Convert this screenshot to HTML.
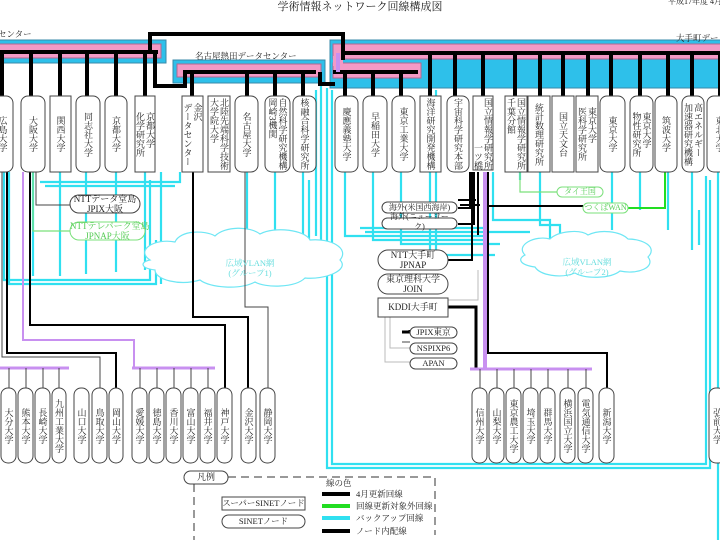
<!DOCTYPE html>
<html><head><meta charset="utf-8"><style>
body{margin:0;background:#fff;}
#w{position:relative;width:720px;height:540px;overflow:hidden;font-family:"Liberation Serif","Noto Serif CJK SC","Noto Sans CJK JP",serif;color:#222;}
svg{position:absolute;left:0;top:0;}
.n{position:absolute;display:flex;align-items:center;justify-content:center;top:96px;height:76px;}
.b{top:388px;height:75px;}
.n>div{writing-mode:vertical-rl;font-size:9px;line-height:10px;white-space:nowrap;}
.h{position:absolute;font-size:9px;line-height:10px;text-align:center;white-space:nowrap;}
</style></head><body><div id="w">
<svg width="720" height="540" viewBox="0 0 720 540" fill="none">
<rect x="-6" y="40" width="172" height="23" fill="#2ec0ea" stroke="#3a8aa8"/>
<rect x="-6" y="44" width="167" height="14" fill="#f39ac6" stroke="#b06890"/>
<rect x="173" y="60" width="152" height="23" fill="#2ec0ea" stroke="#3a8aa8"/>
<rect x="177" y="64" width="144" height="13" fill="#f39ac6" stroke="#b06890"/>
<rect x="330" y="40" width="400" height="48" fill="#2ec0ea" stroke="#3a8aa8"/>
<rect x="333" y="44" width="400" height="15" fill="#f39ac6" stroke="#b06890"/>
<rect x="333" y="63" width="88" height="15" fill="#f39ac6" stroke="#b06890"/>
<rect x="333" y="56" width="10" height="10" fill="#f39ac6"/>
<g stroke="#30e0f0" stroke-width="2.2">
<path d="M327 88V468H710V180M332 90V464H706V176"/>
<path d="M321 84V240M316 90V236"/>
<path d="M4 172V280H150V180M9 172V284H156V240M33 172V276M60 172V276M86 172V274M116 172V272M145 172V270M161 172V284"/>
<path d="M40 182H180V172M45 186H175"/>
<path d="M247 172V240M275 172V240M303 172V236M309 180V240"/>
<path d="M345 172V236H485M373 172V240H485M401 172V244H500M360 228H485M365 232H530"/>
<path d="M430 90V250M436 90V255H495M540 172V225H560V250M520 172V180M493 172V220H550V245M612 172V230M640 172V210M668 172V230M692 172V250M718 172V540M699 210V245"/>
<path d="M565 245V260M625 245V252"/>
</g>
<g fill="#fff" stroke="#6ee6f4" stroke-width="1.2">
<path d="M150 260c-15-10 5-22 25-18c5-12 30-12 40-6c10-10 35-10 45-2c15-8 45-4 50 6c20-2 40 8 30 20c10 10-15 20-35 18c-10 10-40 10-50 4c-15 8-45 6-55-2c-20 6-45 0-45-10c-15-2-15-8-5-10z"/>
<path d="M525 255c-10-10 10-20 25-16c8-8 30-10 38-4c12-6 32-4 40 4c15 0 30 8 20 18c8 10-10 18-28 14c-10 8-35 8-45 2c-15 6-35 2-40-6c-15-2-18-8-10-12z"/>
</g>
<g stroke="#000" stroke-width="4">
<path d="M0 52H158M150 52V34H343V60M343 53H722M333 72H418M155 52V86H185V72M183 72H316M320 72V84H335"/>
<path d="M2 52V96M31 52V96M60 52V96M87 52V96M116 52V96M145 52V96"/>
<path d="M192 72V96M247 72V96M275 72V96M303 72V96M185 72V86"/>
<path d="M345 72V96M373 72V96M401 72V96"/>
<path d="M430 53V96M455 53V96M483 53V96M515 53V96M540 53V96M563 53V96M588 53V96M611 53V96M640 53V96M668 53V96M692 53V96M720 53V96"/>
</g>
<path d="M338 53V72" stroke="#c890f0" stroke-width="4"/>
<g stroke="#000" stroke-width="2">
<path d="M30 172V325H225V388M193 172V317H248V388M7 172V353H116V388"/>
<path d="M488 172V353H607V388"/>
<path d="M476 200H458M480 205H460M470 172V208H458M474 172V224H458M478 172V235M472 172V260H448M484 172V205"/>
<path d="M448 307H476V368M410 330V332H402" stroke-width="3"/>
<path d="M488 206H583"/>
</g>
<g stroke="#444" stroke-width="1"><path d="M36 172V205H70M245 172V307H268V388M2 172V357H100V388M410 342H402"/></g>
<g stroke="#bbb" stroke-width="1"><path d="M390 317V348H410M385 317V362H410M478 270V300H448"/></g>
<g stroke="#7be07b" stroke-width="1.2"><path d="M33 172V231H70M520 172V192H557"/></g>
<path d="M628 208H665V172" stroke="#22dd22" stroke-width="2"/>
<g stroke="#c890f0" stroke-width="2"><path d="M23 172V340H134V368"/></g>
<g stroke="#c890f0" stroke-width="3"><path d="M0 368H69M132 368H215M470 369H592"/><path d="M485 172V368" stroke-width="4"/></g>
<g stroke="#444" stroke-width="1"><path d="M9 368V388M26 368V388M43 368V388M59 368V388M140 368V388M157 368V388M174 368V388M191 368V388M208 368V388M480 369V388M497 369V388M514 369V388M531 369V388M548 369V388M568 369V388M586 369V388M100 357V388M268 307V388"/></g>
<g fill="#fff" stroke="#444" stroke-width="1">
<rect x="-8" y="96" width="21" height="76" rx="7"/><rect x="21" y="96" width="24" height="76" rx="7"/>
<rect x="50" y="96" width="21" height="76"/><rect x="76" y="96" width="24" height="76" rx="7"/>
<rect x="105" y="96" width="22" height="76" rx="7"/><rect x="135" y="96" width="20" height="76"/>
<rect x="182" y="96" width="21" height="76"/><rect x="208" y="96" width="22" height="76"/>
<rect x="235" y="96" width="23" height="76" rx="7"/><rect x="265" y="96" width="25" height="76" rx="7"/>
<rect x="293" y="96" width="23" height="76" rx="7"/><rect x="335" y="96" width="23" height="76" rx="7"/>
<rect x="363" y="96" width="24" height="76" rx="7"/><rect x="392" y="96" width="23" height="76" rx="7"/>
<rect x="420" y="96" width="21" height="76"/><rect x="447" y="96" width="22" height="76" rx="7"/>
<rect x="473" y="96" width="20" height="74"/><rect x="505" y="96" width="22" height="76"/>
<rect x="528" y="96" width="22" height="76"/><rect x="552" y="96" width="22" height="76"/>
<rect x="576" y="96" width="22" height="76"/><rect x="600" y="96" width="25" height="76" rx="7"/>
<rect x="630" y="96" width="23" height="76" rx="7"/><rect x="655" y="96" width="22" height="76" rx="7"/>
<rect x="682" y="96" width="22" height="76" rx="7"/><rect x="707" y="96" width="25" height="76" rx="7"/>
<rect x="1" y="388" width="15" height="75" rx="7"/><rect x="18" y="388" width="15" height="75" rx="7"/>
<rect x="35" y="388" width="15" height="75" rx="7"/><rect x="52" y="388" width="14" height="75" rx="7"/>
<rect x="74" y="388" width="15" height="75" rx="7"/><rect x="92" y="388" width="15" height="75" rx="7"/>
<rect x="109" y="388" width="14" height="75" rx="7"/><rect x="132" y="388" width="15" height="75" rx="7"/>
<rect x="149" y="388" width="15" height="75" rx="7"/><rect x="166" y="388" width="15" height="75" rx="7"/>
<rect x="183" y="388" width="15" height="75" rx="7"/><rect x="200" y="388" width="15" height="75" rx="7"/>
<rect x="217" y="388" width="15" height="75" rx="7"/><rect x="241" y="388" width="15" height="75" rx="7"/>
<rect x="260" y="388" width="15" height="75" rx="7"/>
<rect x="472" y="388" width="15" height="75" rx="7"/><rect x="489" y="388" width="15" height="75" rx="7"/>
<rect x="506" y="388" width="15" height="75" rx="7"/><rect x="523" y="388" width="15" height="75" rx="7"/>
<rect x="540" y="388" width="15" height="75" rx="7"/><rect x="560" y="388" width="15" height="75" rx="7"/>
<rect x="578" y="388" width="15" height="75" rx="7"/><rect x="599" y="388" width="15" height="75" rx="7"/>
<rect x="709" y="388" width="16" height="75" rx="7"/>
<rect x="70" y="195" width="70" height="18" rx="9"/>
<rect x="382" y="202" width="75" height="11" rx="5.5"/><rect x="382" y="218" width="75" height="11" rx="5.5"/>
<rect x="378" y="250" width="70" height="20" rx="10"/><rect x="378" y="274" width="70" height="20" rx="10"/>
<rect x="378" y="298" width="70" height="19"/>
<rect x="410" y="327" width="47" height="11" rx="5.5"/><rect x="410" y="343" width="47" height="11" rx="5.5"/><rect x="410" y="358" width="47" height="11" rx="5.5"/>
<rect x="184" y="471" width="44" height="13" rx="6.5"/>
<rect x="222" y="497" width="83" height="13"/><rect x="222" y="515" width="83" height="13" rx="6.5"/>
</g>
<g fill="#fff" stroke="#7be07b"><rect x="70" y="222" width="75" height="18" rx="9"/><rect x="557" y="187" width="46" height="10" rx="5"/><rect x="583" y="203" width="45" height="10" rx="5"/></g>
<path d="M228 477H435V535M194 484V540" stroke="#333" stroke-dasharray="8 5"/>
<path d="M322 494H350M322 531H350" stroke="#000" stroke-width="4"/>
<path d="M322 506H350" stroke="#22dd22" stroke-width="4"/>
<path d="M322 518H350" stroke="#30e0f0" stroke-width="4"/>
</svg>
<div class="h" style="left:270px;top:2px;width:180px;font-size:11px">学術情報ネットワーク回線構成図</div>
<div class="h" style="left:668px;top:-3px;font-size:8px">平成17年度 4月</div>
<div class="h" style="left:-2px;top:29px;font-size:8.5px">センター</div>
<div class="h" style="left:676px;top:33px;font-size:8.5px">大手町デー</div>
<div class="h" style="left:195px;top:51px;width:100px;font-size:8.5px">名古屋熱田データセンター</div>
<div class="n" style="left:-8px;width:21px"><div>広島大学</div></div>
<div class="n" style="left:21px;width:24px"><div>大阪大学</div></div>
<div class="n" style="left:50px;width:21px"><div>関西大学</div></div>
<div class="n" style="left:76px;width:24px"><div>同志社大学</div></div>
<div class="n" style="left:105px;width:22px"><div>京都大学</div></div>
<div class="n" style="left:135px;width:20px"><div>京都大学<br>化学研究所</div></div>
<div class="n" style="left:182px;width:21px"><div>金沢<br>データセンター</div></div>
<div class="n" style="left:208px;width:22px"><div>北陸先端科学技術<br>大学院大学</div></div>
<div class="n" style="left:235px;width:23px"><div>名古屋大学</div></div>
<div class="n" style="left:265px;width:25px"><div>自然科学研究機構<br>岡崎3機関</div></div>
<div class="n" style="left:293px;width:23px"><div>核融合科学研究所</div></div>
<div class="n" style="left:335px;width:23px"><div>慶應義塾大学</div></div>
<div class="n" style="left:363px;width:24px"><div>早稲田大学</div></div>
<div class="n" style="left:392px;width:23px"><div>東京工業大学</div></div>
<div class="n" style="left:420px;width:21px"><div>海洋研究開発機構</div></div>
<div class="n" style="left:447px;width:22px"><div>宇宙科学研究本部</div></div>
<div class="n" style="left:473px;width:20px"><div style="text-align:end">国立情報学研究所<br>一ツ橋</div></div>
<div class="n" style="left:505px;width:22px"><div>国立情報学研究所<br>千葉分館</div></div>
<div class="n" style="left:528px;width:22px"><div>統計数理研究所</div></div>
<div class="n" style="left:552px;width:22px"><div>国立天文台</div></div>
<div class="n" style="left:576px;width:22px"><div>東京大学<br>医科学研究所</div></div>
<div class="n" style="left:600px;width:25px"><div>東京大学</div></div>
<div class="n" style="left:630px;width:23px"><div>東京大学<br>物性研究所</div></div>
<div class="n" style="left:655px;width:22px"><div>筑波大学</div></div>
<div class="n" style="left:682px;width:22px"><div>高エネルギー<br>加速器研究機構</div></div>
<div class="n" style="left:707px;width:25px"><div>東北大学</div></div>
<div class="n b" style="left:1px;width:15px"><div>大分大学</div></div>
<div class="n b" style="left:18px;width:15px"><div>熊本大学</div></div>
<div class="n b" style="left:35px;width:15px"><div>長崎大学</div></div>
<div class="n b" style="left:52px;width:14px"><div>九州工業大学</div></div>
<div class="n b" style="left:74px;width:15px"><div>山口大学</div></div>
<div class="n b" style="left:92px;width:15px"><div>鳥取大学</div></div>
<div class="n b" style="left:109px;width:14px"><div>岡山大学</div></div>
<div class="n b" style="left:132px;width:15px"><div>愛媛大学</div></div>
<div class="n b" style="left:149px;width:15px"><div>徳島大学</div></div>
<div class="n b" style="left:166px;width:15px"><div>香川大学</div></div>
<div class="n b" style="left:183px;width:15px"><div>富山大学</div></div>
<div class="n b" style="left:200px;width:15px"><div>福井大学</div></div>
<div class="n b" style="left:217px;width:15px"><div>神戸大学</div></div>
<div class="n b" style="left:241px;width:15px"><div>金沢大学</div></div>
<div class="n b" style="left:260px;width:15px"><div>静岡大学</div></div>
<div class="n b" style="left:472px;width:15px"><div>信州大学</div></div>
<div class="n b" style="left:489px;width:15px"><div>山梨大学</div></div>
<div class="n b" style="left:506px;width:15px"><div>東京農工大学</div></div>
<div class="n b" style="left:523px;width:15px"><div>埼玉大学</div></div>
<div class="n b" style="left:540px;width:15px"><div>群馬大学</div></div>
<div class="n b" style="left:560px;width:15px"><div>横浜国立大学</div></div>
<div class="n b" style="left:578px;width:15px"><div>電気通信大学</div></div>
<div class="n b" style="left:599px;width:15px"><div>新潟大学</div></div>
<div class="n b" style="left:709px;width:16px"><div>弘前大学</div></div>
<div class="h" style="left:70px;top:194px;width:70px">NTTデータ堂島<br>JPIX大阪</div>
<div class="h" style="left:70px;top:221px;width:75px;color:#5c5">NTTテレパーク堂島<br>JPNAP大阪</div>
<div class="h" style="left:200px;top:258px;width:100px;color:#6dd;font-size:8.5px">広域VLAN網<br>(グループ1)</div>
<div class="h" style="left:537px;top:257px;width:100px;color:#6dd;font-size:8.5px">広域VLAN網<br>(グループ2)</div>
<div class="h" style="left:382px;top:203px;width:75px;font-size:8px">海外(米国西海岸)</div>
<div class="h" style="left:382px;top:212px;width:75px;font-size:8px">海外(ニューヨー<br>ク)</div>
<div class="h" style="left:378px;top:250px;width:70px">NTT大手町<br>JPNAP</div>
<div class="h" style="left:378px;top:274px;width:70px">東京理科大学<br>JOIN</div>
<div class="h" style="left:378px;top:302px;width:70px">KDDI大手町</div>
<div class="h" style="left:410px;top:327px;width:47px;font-size:8.5px">JPIX東京</div>
<div class="h" style="left:410px;top:343px;width:47px;font-size:8.5px">NSPIXP6</div>
<div class="h" style="left:410px;top:358px;width:47px;font-size:8.5px">APAN</div>
<div class="h" style="left:557px;top:187px;width:46px;font-size:8px;color:#5c5">タイ王国</div>
<div class="h" style="left:583px;top:203px;width:45px;font-size:8px;color:#5c5">つくばWAN</div>
<div class="h" style="left:184px;top:472px;width:44px">凡例</div>
<div class="h" style="left:326px;top:478px;font-size:8.5px">線の色</div>
<div class="h" style="left:222px;top:498px;width:83px;font-size:8.5px">スーパーSINETノード</div>
<div class="h" style="left:222px;top:516px;width:83px;font-size:8.5px">SINETノード</div>
<div class="h" style="left:356px;top:489px;font-size:8.5px;text-align:left">4月更新回線</div>
<div class="h" style="left:356px;top:501px;font-size:8.5px;text-align:left">回線更新対象外回線</div>
<div class="h" style="left:356px;top:513px;font-size:8.5px;text-align:left">バックアップ回線</div>
<div class="h" style="left:356px;top:526px;font-size:8.5px;text-align:left">ノード内配線</div>
</div></body></html>
